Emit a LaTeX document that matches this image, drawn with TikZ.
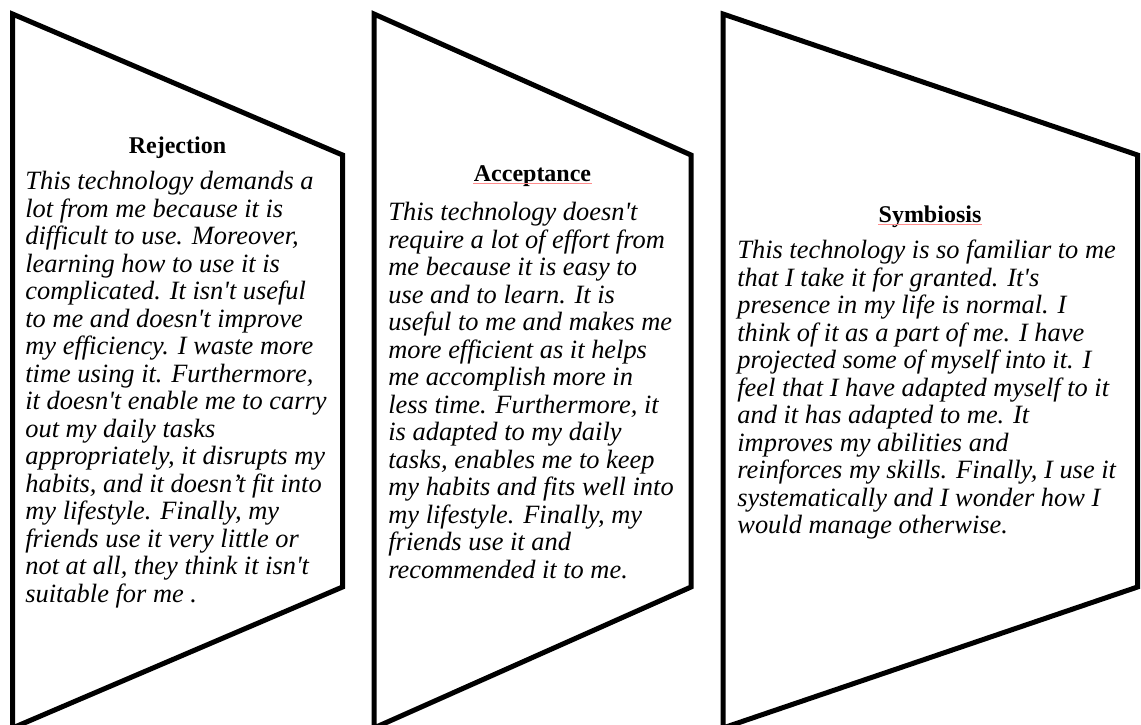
\documentclass[tikz,border=0pt]{standalone}
\usepackage{fontspec}
\setmainfont{Liberation Serif}
\usepackage{tikz}
\newcommand{\ap}{\textquotesingle}

\begin{document}
\begin{tikzpicture}[x=0.5pt, y=-0.5pt]
      \tikzstyle{panel} = [draw=black, line width=2.5pt, line join=miter, fill=white]
      \tikzstyle{head} = [font=\fontsize{12pt}{13.75pt}\selectfont\bfseries, inner sep=0pt, anchor=base]
      \tikzstyle{body} = [font=\fontsize{13.2pt}{13.75pt}\selectfont\itshape, align=left, inner sep=0pt, anchor=north west]
      \tikzstyle{squiggle} = [red!45, line width=0.4pt]
      \useasboundingbox (0,0) rectangle (1141,724);
      \clip (0,0) rectangle (1141,724);
      % the three panels
      \draw[panel] (12.5,14) -- (342.5,155) -- (342.5,587) -- (12.5,728) -- cycle;
      \draw[panel] (374,14) -- (691,155) -- (691,587) -- (374,728) -- cycle;
      \draw[panel] (723,14) -- (1137.5,155) -- (1137.5,587) -- (723,728) -- cycle;
      % Rejection
      \node[head] (rejection) at (177.5,153) {Rejection};
      \node[body] (rejtext) at (25,171) {This technology demands a\\
        lot from me because it is\\
        difficult to use. Moreover,\\
        learning how to use it is\\
        complicated. It isn\ap t useful\\
        to me and doesn\ap t improve\\
        my efficiency. I waste more\\
        time using it. Furthermore,\\
        it doesn\ap t enable me to carry\\
        out my daily tasks\\
        appropriately, it disrupts my\\
        habits, and it doesn’t fit into\\
        my lifestyle. Finally, my\\
        friends use it very little or\\
        not at all, they think it isn\ap t\\
        suitable for me .};
      % Acceptance
      \node[head] (acceptance) at (532.5,181) {Acceptance};
      \draw[squiggle] ([yshift=-1.2pt]acceptance.base west) -- ([yshift=-1.2pt]acceptance.base east);
      \node[body] (acctext) at (388,202) {This technology doesn\ap t\\
        require a lot of effort from\\
        me because it is easy to\\
        use and to learn. It is\\
        useful to me and makes me\\
        more efficient as it helps\\
        me accomplish more in\\
        less time. Furthermore, it\\
        is adapted to my daily\\
        tasks, enables me to keep\\
        my habits and fits well into\\
        my lifestyle. Finally, my\\
        friends use it and\\
        recommended it to me.};
      % Symbiosis
      \node[head] (symbiosis) at (930,222) {Symbiosis};
      \draw[squiggle] ([yshift=-1.2pt]symbiosis.base west) -- ([yshift=-1.2pt]symbiosis.base east);
      \node[body] (symtext) at (737,240) {This technology is so familiar to me\\
        that I take it for granted. It\ap s\\
        presence in my life is normal. I\\
        think of it as a part of me. I have\\
        projected some of myself into it. I\\
        feel that I have adapted myself to it\\
        and it has adapted to me. It\\
        improves my abilities and\\
        reinforces my skills. Finally, I use it\\
        systematically and I wonder how I\\
        would manage otherwise.};
\end{tikzpicture}
\end{document}
